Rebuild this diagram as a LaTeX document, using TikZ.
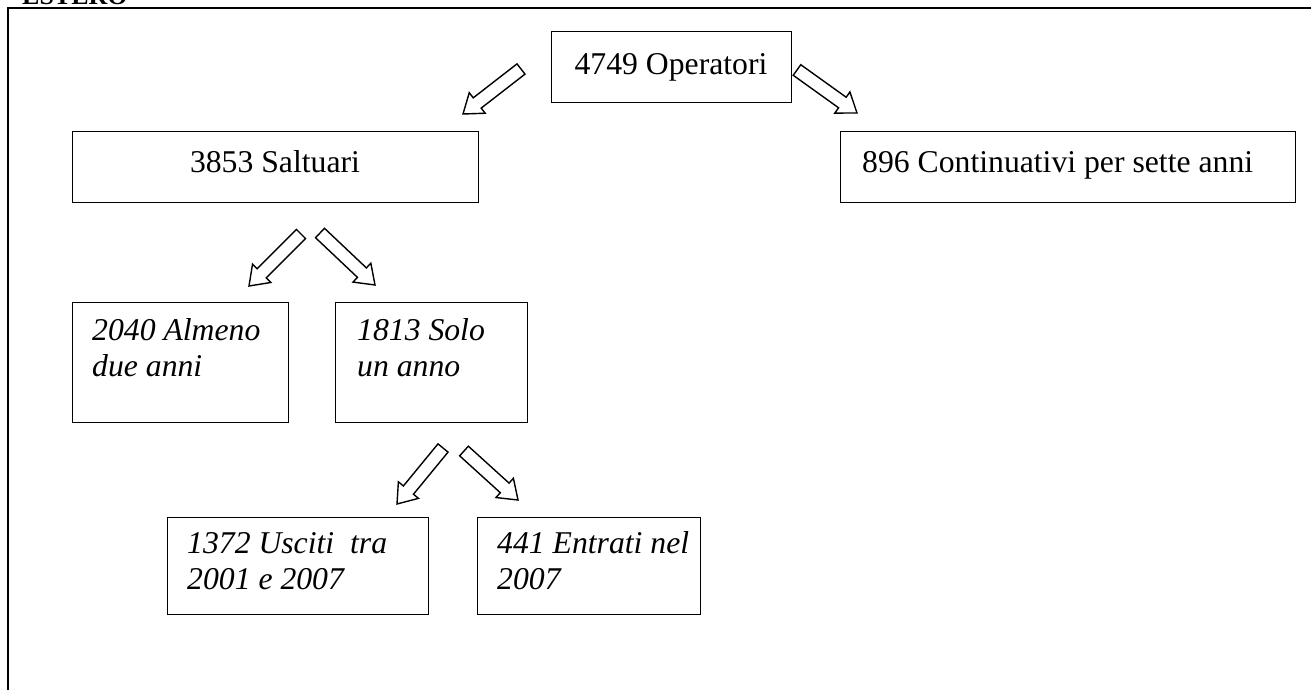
\documentclass[tikz,border=0pt]{standalone}
\usepackage{fontspec}
\setmainfont{Liberation Serif}
\usetikzlibrary{calc}
\tikzset{
  box/.style={draw, line width=1.4pt, rectangle, inner sep=0pt, anchor=north west},
  txt/.style={inner sep=0pt, font=\fontsize{31.7}{36}\selectfont},
  itxt/.style={inner sep=0pt, font=\fontsize{31.7}{36}\selectfont\itshape, anchor=base west},
  blockarrow/.style={draw, line width=1.4pt, fill=white, line join=miter},
  frameline/.style={line width=2.6pt, line join=miter},
}
\newcommand{\blkarrow}[2]{%
  \coordinate (bh) at ($(#2)!18pt!(#1)$);
  \draw[blockarrow]
    ($(#1)!6.5pt!90:(#2)$) -- ($(bh)!6.5pt!90:(#2)$) -- ($(bh)!13pt!90:(#2)$)
    -- (#2)
    -- ($(bh)!13pt!-90:(#2)$) -- ($(bh)!6.5pt!-90:(#2)$) -- ($(#1)!6.5pt!-90:(#2)$) -- cycle;
}
\begin{document}
\begin{tikzpicture}[x=1pt,y=-1pt]
\useasboundingbox (0,0) rectangle (1311,690);
% clipped heading
\begin{scope}
\clip (0,0) rectangle (1311,690);
\node[inner sep=0pt, anchor=base west, font=\bfseries\fontsize{26}{30}\selectfont] (est) at (22,5) {ESTERO};
\end{scope}
% frame
\draw[frameline] (8,700) -- (8,8) -- (1320,8);
% boxes
\node[box, minimum width=240, minimum height=71] (op) at (551,31) {};
\node[box, minimum width=406, minimum height=71] (sal) at (72,131) {};
\node[box, minimum width=455, minimum height=71] (con) at (840,131) {};
\node[box, minimum width=216, minimum height=120] (b2040) at (72,302) {};
\node[box, minimum width=192, minimum height=120] (b1813) at (335,302) {};
\node[box, minimum width=261, minimum height=97] (b1372) at (167,517) {};
\node[box, minimum width=223, minimum height=97] (b441) at (477,517) {};
% texts
\node[txt, anchor=base] (top) at (671,75) {4749 Operatori};
\node[txt, anchor=base] (tsal) at (275,172) {3853 Saltuari};
\node[txt, anchor=base west] (tcon) at (862,172) {896 Continuativi per sette anni};
\node[itxt] (t2040) at (92,340) {\begin{tabular}[t]{@{}l@{}}2040 Almeno\\due anni\end{tabular}};
\node[itxt] (t1813) at (357,340) {\begin{tabular}[t]{@{}l@{}}1813 Solo\\un anno\end{tabular}};
\node[itxt] (t1372) at (187,553) {\begin{tabular}[t]{@{}l@{}}1372 Usciti\ \ tra\\2001 e 2007\end{tabular}};
\node[itxt] (t441) at (497,553) {\begin{tabular}[t]{@{}l@{}}441 Entrati nel\\2007\end{tabular}};
% arrows
\coordinate (a1t) at (521,69);  \coordinate (a1h) at (463,114);
\coordinate (a2t) at (797,70);  \coordinate (a2h) at (857,113);
\coordinate (a3t) at (301,234); \coordinate (a3h) at (249,286);
\coordinate (a4t) at (320,233); \coordinate (a4h) at (375,285);
\coordinate (a5t) at (443,448); \coordinate (a5h) at (397,504);
\coordinate (a6t) at (464,451); \coordinate (a6h) at (518,500);
\blkarrow{a1t}{a1h}
\blkarrow{a2t}{a2h}
\blkarrow{a3t}{a3h}
\blkarrow{a4t}{a4h}
\blkarrow{a5t}{a5h}
\blkarrow{a6t}{a6h}
\end{tikzpicture}
\end{document}
